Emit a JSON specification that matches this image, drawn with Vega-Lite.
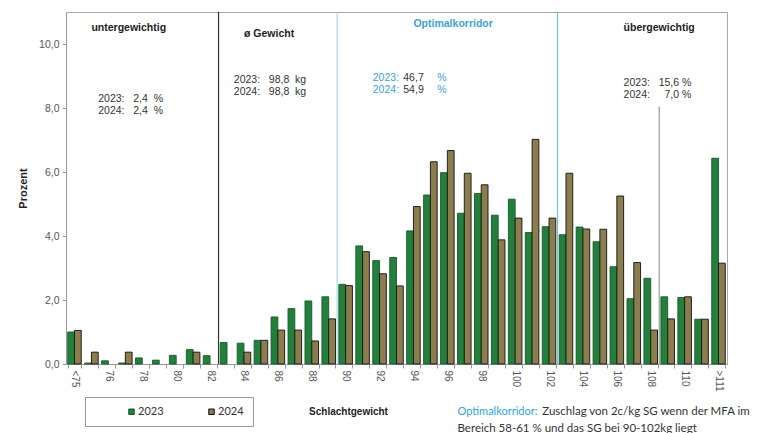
{
  "$schema": "https://vega.github.io/schema/vega-lite/v6.json",
  "width": 661,
  "height": 352,
  "autosize": "none",
  "padding": {"left": 66, "top": 12, "right": 36, "bottom": 69},
  "background": "white",
  "config": {
    "font": "Liberation Sans",
    "view": {"stroke": "#a8a8a8", "strokeWidth": 1}
  },
  "datasets": {
    "bars": [
      {"cat": "<75", "year": "2023", "pct": 1.0}, {"cat": "<75", "year": "2024", "pct": 1.05},
      {"cat": "75", "year": "2023", "pct": 0.03}, {"cat": "75", "year": "2024", "pct": 0.37},
      {"cat": "76", "year": "2023", "pct": 0.1},
      {"cat": "77", "year": "2023", "pct": 0.03}, {"cat": "77", "year": "2024", "pct": 0.37},
      {"cat": "78", "year": "2023", "pct": 0.19},
      {"cat": "79", "year": "2023", "pct": 0.12},
      {"cat": "80", "year": "2023", "pct": 0.27},
      {"cat": "81", "year": "2023", "pct": 0.45}, {"cat": "81", "year": "2024", "pct": 0.37},
      {"cat": "82", "year": "2023", "pct": 0.26},
      {"cat": "83", "year": "2023", "pct": 0.67},
      {"cat": "84", "year": "2023", "pct": 0.65}, {"cat": "84", "year": "2024", "pct": 0.37},
      {"cat": "85", "year": "2023", "pct": 0.74}, {"cat": "85", "year": "2024", "pct": 0.74},
      {"cat": "86", "year": "2023", "pct": 1.47}, {"cat": "86", "year": "2024", "pct": 1.06},
      {"cat": "87", "year": "2023", "pct": 1.73}, {"cat": "87", "year": "2024", "pct": 1.06},
      {"cat": "88", "year": "2023", "pct": 1.97}, {"cat": "88", "year": "2024", "pct": 0.72},
      {"cat": "89", "year": "2023", "pct": 2.1}, {"cat": "89", "year": "2024", "pct": 1.41},
      {"cat": "90", "year": "2023", "pct": 2.49}, {"cat": "90", "year": "2024", "pct": 2.45},
      {"cat": "91", "year": "2023", "pct": 3.69}, {"cat": "91", "year": "2024", "pct": 3.51},
      {"cat": "92", "year": "2023", "pct": 3.23}, {"cat": "92", "year": "2024", "pct": 2.82},
      {"cat": "93", "year": "2023", "pct": 3.33}, {"cat": "93", "year": "2024", "pct": 2.44},
      {"cat": "94", "year": "2023", "pct": 4.16}, {"cat": "94", "year": "2024", "pct": 4.92},
      {"cat": "95", "year": "2023", "pct": 5.28}, {"cat": "95", "year": "2024", "pct": 6.32},
      {"cat": "96", "year": "2023", "pct": 5.98}, {"cat": "96", "year": "2024", "pct": 6.67},
      {"cat": "97", "year": "2023", "pct": 4.71}, {"cat": "97", "year": "2024", "pct": 5.96},
      {"cat": "98", "year": "2023", "pct": 5.33}, {"cat": "98", "year": "2024", "pct": 5.6},
      {"cat": "99", "year": "2023", "pct": 4.65}, {"cat": "99", "year": "2024", "pct": 3.88},
      {"cat": "100", "year": "2023", "pct": 5.15}, {"cat": "100", "year": "2024", "pct": 4.56},
      {"cat": "101", "year": "2023", "pct": 4.11}, {"cat": "101", "year": "2024", "pct": 7.02},
      {"cat": "102", "year": "2023", "pct": 4.29}, {"cat": "102", "year": "2024", "pct": 4.56},
      {"cat": "103", "year": "2023", "pct": 4.04}, {"cat": "103", "year": "2024", "pct": 5.96},
      {"cat": "104", "year": "2023", "pct": 4.28}, {"cat": "104", "year": "2024", "pct": 4.22},
      {"cat": "105", "year": "2023", "pct": 3.82}, {"cat": "105", "year": "2024", "pct": 4.21},
      {"cat": "106", "year": "2023", "pct": 3.04}, {"cat": "106", "year": "2024", "pct": 5.25},
      {"cat": "107", "year": "2023", "pct": 2.04}, {"cat": "107", "year": "2024", "pct": 3.17},
      {"cat": "108", "year": "2023", "pct": 2.68}, {"cat": "108", "year": "2024", "pct": 1.06},
      {"cat": "109", "year": "2023", "pct": 2.1}, {"cat": "109", "year": "2024", "pct": 1.41},
      {"cat": "110", "year": "2023", "pct": 2.08}, {"cat": "110", "year": "2024", "pct": 2.1},
      {"cat": "111", "year": "2023", "pct": 1.4}, {"cat": "111", "year": "2024", "pct": 1.4},
      {"cat": ">111", "year": "2023", "pct": 6.43}, {"cat": ">111", "year": "2024", "pct": 3.15}
    ],
    "bounds": [
      {"cat": "83", "kind": "black"},
      {"cat": "90", "kind": "lightblue"},
      {"cat": "103", "kind": "blue"},
      {"cat": "109", "kind": "grey"}
    ],
    "notes": [
      {"text": "untergewichtig", "cat": "75", "level": 10.42, "g": "boldc"},
      {"text": "ø Gewicht", "cat": "84", "level": 10.23, "g": "boldc"},
      {"text": "übergewichtig", "cat": "106", "level": 10.42, "g": "boldr"},
      {"text": "Optimalkorridor", "cat": "94", "level": 10.52, "g": "bluebold"},
      {"text": "2023:\u00a0\u00a0 2,4 \u00a0%\n2024:\u00a0\u00a0 2,4 \u00a0%", "cat": "75", "level": 8.2, "g": "dark"},
      {"text": "2023:\u00a0\u00a0 98,8 \u00a0kg\n2024:\u00a0\u00a0 98,8 \u00a0kg", "cat": "83", "level": 8.77, "g": "dark"},
      {"text": "2023:\u00a0\u00a0 15,6 %\n2024:\u00a0\u00a0\u00a0\u00a0 7,0 %", "cat": "106", "level": 8.7, "g": "dark"},
      {"text": "46,7\n54,9", "cat": "93", "level": 8.83, "g": "dark"},
      {"text": "%\n%", "cat": "95", "level": 8.83, "g": "bluer"},
      {"text": "2023:\n2024:", "cat": "92", "level": 8.83, "g": "bluel"},
      {"text": "Optimalkorridor:", "cat": "97", "level": -1.59, "g": "notebluel"},
      {"text": "Zuschlag von 2c/kg SG wenn der MFA im", "cat": "102", "level": -1.59, "g": "notel"},
      {"text": "Bereich 58-61 % und das SG bei 90-102kg liegt", "cat": "97", "level": -2.13, "g": "notel"}
    ]
  },
  "layer": [
    {
      "data": {"name": "bars"},
      "mark": {"type": "bar", "strokeWidth": 0.9},
      "encoding": {
        "x": {
          "field": "cat", "type": "nominal", "title": "Schlachtgewicht",
          "scale": {"domain": ["<75","75","76","77","78","79","80","81","82","83","84","85","86","87","88","89","90","91","92","93","94","95","96","97","98","99","100","101","102","103","104","105","106","107","108","109","110","111",">111"], "paddingInner": 0.2, "paddingOuter": 0.1},
          "axis": {
            "labelAngle": 90,
            "labelExpr": "datum.value == '<75' || datum.value == '>111' || (toNumber(datum.value) % 2 == 0) ? datum.label : ''",
            "labelFontSize": 10, "labelColor": "#555", "labelPadding": 2,
            "tickColor": "#999", "tickSize": 4, "tickBand": "extent",
            "domainColor": "#999",
            "titleFontSize": 10, "titleFontWeight": "bold", "titleColor": "#222",
            "titleX": 282, "titleY": 42
          }
        },
        "xOffset": {"field": "year", "type": "nominal", "scale": {"domain": ["2023","2024"], "paddingInner": 0, "paddingOuter": 0}},
        "y": {
          "field": "pct", "type": "quantitative", "title": "Prozent",
          "scale": {"domain": [0, 11], "nice": false},
          "axis": {
            "values": [0, 2, 4, 6, 8, 10],
            "labelExpr": "replace(format(datum.value, '.1f'), '.', ',')",
            "labelFontSize": 10.5, "labelColor": "#555", "labelPadding": 3,
            "tickColor": "#999", "tickSize": 4, "domainColor": "#999", "grid": false,
            "titleFontSize": 11, "titleFontWeight": "bold", "titleColor": "#222", "titlePadding": 10
          }
        },
        "fill": {
          "field": "year", "type": "nominal",
          "scale": {"domain": ["2023","2024"], "range": ["#22803c","#8c7d4e"]},
          "legend": {
            "title": null, "orient": "none", "legendX": 19, "legendY": 385,
            "direction": "horizontal", "symbolType": "square", "symbolSize": 30,
            "symbolStrokeWidth": 1, "labelFontSize": 11, "labelFont": "Lato", "labelColor": "#333",
            "padding": 9, "strokeColor": "#999", "fillColor": "white",
            "symbolOffset": 32, "labelOffset": 1, "columnPadding": 10,
            "labelExpr": "datum.label == '2024' ? '2024\u00a0\u00a0\u00a0\u00a0\u00a0\u00a0\u00a0\u00a0\u00a0\u00a0\u00a0' : datum.label"
          }
        },
        "stroke": {
          "field": "year", "type": "nominal",
          "scale": {"domain": ["2023","2024"], "range": ["#17592a","#111111"]}
        }
      }
    },
    {
      "data": {"name": "bounds"},
      "transform": [{"filter": "datum.kind == 'black'"}],
      "mark": {"type": "rule", "color": "#333", "strokeWidth": 1.2},
      "encoding": {"x": {"field": "cat", "type": "nominal", "bandPosition": -0.125, "title": "Schlachtgewicht"}}
    },
    {
      "data": {"name": "bounds"},
      "transform": [{"filter": "datum.kind == 'lightblue'"}],
      "mark": {"type": "rule", "color": "#a6d8ee", "strokeWidth": 1.2},
      "encoding": {"x": {"field": "cat", "type": "nominal", "bandPosition": -0.125, "title": "Schlachtgewicht"}}
    },
    {
      "data": {"name": "bounds"},
      "transform": [{"filter": "datum.kind == 'blue'"}],
      "mark": {"type": "rule", "color": "#70c2e6", "strokeWidth": 1.2},
      "encoding": {"x": {"field": "cat", "type": "nominal", "bandPosition": -0.125, "title": "Schlachtgewicht"}}
    },
    {
      "data": {"name": "bounds"},
      "transform": [{"filter": "datum.kind == 'grey'"}],
      "mark": {"type": "rule", "color": "#9a9a9a", "strokeWidth": 1.2},
      "encoding": {
        "x": {"field": "cat", "type": "nominal", "bandPosition": -0.125, "title": "Schlachtgewicht"},
        "y": {"datum": 8.05, "type": "quantitative", "title": "Prozent"},
        "y2": {"datum": 0}
      }
    },
    {
      "data": {"name": "notes"},
      "transform": [{"filter": "datum.g == 'boldc'"}],
      "mark": {"type": "text", "align": "left", "baseline": "alphabetic", "fontSize": 10.5, "fontWeight": "bold", "color": "#222"},
      "encoding": {
        "x": {"field": "cat", "type": "nominal", "bandPosition": 0.5, "title": "Schlachtgewicht"},
        "y": {"field": "level", "type": "quantitative", "title": "Prozent"},
        "text": {"field": "text"}
      }
    },
    {
      "data": {"name": "notes"},
      "transform": [{"filter": "datum.g == 'boldr'"}],
      "mark": {"type": "text", "align": "left", "baseline": "alphabetic", "fontSize": 10.5, "fontWeight": "bold", "color": "#222"},
      "encoding": {
        "x": {"field": "cat", "type": "nominal", "bandPosition": 1, "title": "Schlachtgewicht"},
        "y": {"field": "level", "type": "quantitative", "title": "Prozent"},
        "text": {"field": "text"}
      }
    },
    {
      "data": {"name": "notes"},
      "transform": [{"filter": "datum.g == 'bluebold'"}],
      "mark": {"type": "text", "align": "left", "baseline": "alphabetic", "fontSize": 10.5, "fontWeight": "bold", "color": "#3aa3d6"},
      "encoding": {
        "x": {"field": "cat", "type": "nominal", "bandPosition": 0.5, "title": "Schlachtgewicht"},
        "y": {"field": "level", "type": "quantitative", "title": "Prozent"},
        "text": {"field": "text"}
      }
    },
    {
      "data": {"name": "notes"},
      "transform": [{"filter": "datum.g == 'dark'"}],
      "mark": {"type": "text", "align": "left", "baseline": "alphabetic", "fontSize": 10.5, "color": "#333", "lineBreak": "\n", "lineHeight": 12},
      "encoding": {
        "x": {"field": "cat", "type": "nominal", "bandPosition": 1, "title": "Schlachtgewicht"},
        "y": {"field": "level", "type": "quantitative", "title": "Prozent"},
        "text": {"field": "text"}
      }
    },
    {
      "data": {"name": "notes"},
      "transform": [{"filter": "datum.g == 'bluer'"}],
      "mark": {"type": "text", "align": "left", "baseline": "alphabetic", "fontSize": 10.5, "color": "#3aa3d6", "lineBreak": "\n", "lineHeight": 12},
      "encoding": {
        "x": {"field": "cat", "type": "nominal", "bandPosition": 1, "title": "Schlachtgewicht"},
        "y": {"field": "level", "type": "quantitative", "title": "Prozent"},
        "text": {"field": "text"}
      }
    },
    {
      "data": {"name": "notes"},
      "transform": [{"filter": "datum.g == 'bluel'"}],
      "mark": {"type": "text", "align": "left", "baseline": "alphabetic", "fontSize": 10.5, "color": "#3aa3d6", "lineBreak": "\n", "lineHeight": 12},
      "encoding": {
        "x": {"field": "cat", "type": "nominal", "bandPosition": 0, "title": "Schlachtgewicht"},
        "y": {"field": "level", "type": "quantitative", "title": "Prozent"},
        "text": {"field": "text"}
      }
    },
    {
      "data": {"name": "notes"},
      "transform": [{"filter": "datum.g == 'notebluel'"}],
      "mark": {"type": "text", "align": "left", "baseline": "alphabetic", "fontSize": 11, "font": "Lato", "color": "#2aa5dc"},
      "encoding": {
        "x": {"field": "cat", "type": "nominal", "bandPosition": 0, "title": "Schlachtgewicht"},
        "y": {"field": "level", "type": "quantitative", "title": "Prozent"},
        "text": {"field": "text"}
      }
    },
    {
      "data": {"name": "notes"},
      "transform": [{"filter": "datum.g == 'notel'"}],
      "mark": {"type": "text", "align": "left", "baseline": "alphabetic", "fontSize": 11.5, "font": "Lato", "color": "#333"},
      "encoding": {
        "x": {"field": "cat", "type": "nominal", "bandPosition": 0, "title": "Schlachtgewicht"},
        "y": {"field": "level", "type": "quantitative", "title": "Prozent"},
        "text": {"field": "text"}
      }
    }
  ]
}
